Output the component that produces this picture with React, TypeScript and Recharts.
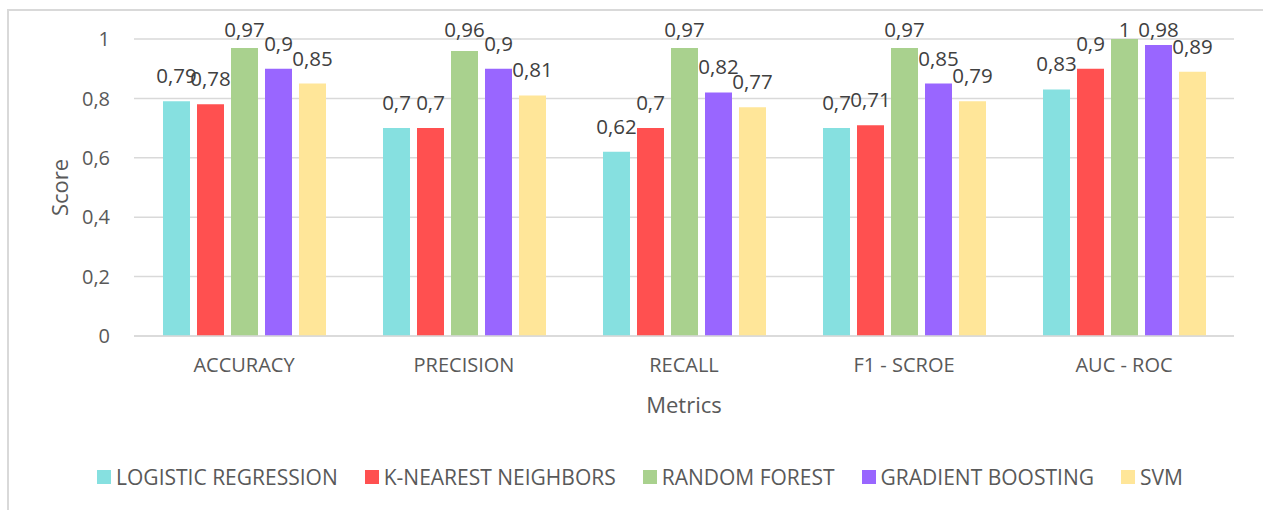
import { BarChart, Bar, XAxis, YAxis, CartesianGrid, LabelList } from "recharts"

const metrics = ["ACCURACY", "PRECISION", "RECALL", "F1 - SCROE", "AUC - ROC"]
const logisticRegression = [0.79, 0.7, 0.62, 0.7, 0.83]
const kNearestNeighbors = [0.78, 0.7, 0.7, 0.71, 0.9]
const randomForest = [0.97, 0.96, 0.97, 0.97, 1]
const gradientBoosting = [0.9, 0.9, 0.82, 0.85, 0.98]
const svm = [0.85, 0.81, 0.77, 0.79, 0.89]
const yTicks = [0, 0.2, 0.4, 0.6, 0.8, 1]

const series = [
  { key: "lr", name: "LOGISTIC REGRESSION", color: "#86E0E0", values: logisticRegression },
  { key: "knn", name: "K-NEAREST NEIGHBORS", color: "#FF5050", values: kNearestNeighbors },
  { key: "rf", name: "RANDOM FOREST", color: "#A9D18E", values: randomForest },
  { key: "gb", name: "GRADIENT BOOSTING", color: "#9966FF", values: gradientBoosting },
  { key: "svm", name: "SVM", color: "#FFE699", values: svm },
]

const data = metrics.map((m, i) => {
  const row: any = { metric: m }
  series.forEach((s) => (row[s.key] = s.values[i]))
  return row
})

const FONT = '"Open Sans", sans-serif'
const fmt = (v: any) => String(v).replace(".", ",")

// value above the bar, kept inside the top of the plot
const renderValue = (props: any) => {
  const { x, y, width, value } = props
  const ty = Math.max(y - 18, 26)
  return (
    <text x={x + width / 2} y={ty} textAnchor="middle" fill="#404040" fontSize={20.5} fontFamily={FONT}>
      {fmt(value)}
    </text>
  )
}

export default function App() {
  return (
    <div
      style={{
        position: "absolute",
        left: 7,
        top: 9,
        width: 1280,
        height: 520,
        borderLeft: "2px solid #D9D9D9",
        borderTop: "2px solid #D9D9D9",
        fontFamily: FONT,
      }}
    >
      <BarChart
        width={1268}
        height={420}
        data={data}
        margin={{ top: 28, right: 43, left: 25, bottom: 10 }}
        barSize={27}
        barGap={7}
      >
        <CartesianGrid vertical={false} stroke="#D9D9D9" strokeWidth={1.5} />
        <XAxis
          dataKey="metric"
          height={85}
          tickLine={false}
          tickSize={0}
          tickMargin={22}
          axisLine={{ stroke: "#D9D9D9", strokeWidth: 1.5 }}
          tick={{ fill: "#595959", fontSize: 20, fontFamily: FONT }}
          label={{ value: "Metrics", position: "insideBottom", offset: 8, fill: "#595959", fontSize: 22, fontFamily: FONT }}
        />
        <YAxis
          width={100}
          domain={[0, 1]}
          ticks={yTicks}
          tickFormatter={fmt}
          axisLine={false}
          tickLine={false}
          tickSize={0}
          tickMargin={24}
          tick={{ fill: "#595959", fontSize: 20, fontFamily: FONT }}
          label={{
            value: "Score",
            angle: -90,
            position: "insideLeft",
            offset: 26,
            fill: "#595959",
            fontSize: 22,
            fontFamily: FONT,
            style: { textAnchor: "middle" },
          }}
        />
        {series.map((s) => (
          <Bar key={s.key} dataKey={s.key} name={s.name} fill={s.color} isAnimationActive={false}>
            <LabelList dataKey={s.key} content={renderValue} />
          </Bar>
        ))}
      </BarChart>
      <div
        style={{
          position: "absolute",
          left: -9,
          top: 452,
          width: 1280,
          display: "flex",
          justifyContent: "center",
          gap: 27,
          fontSize: 21,
          color: "#595959",
        }}
      >
        {series.map((s) => (
          <div key={s.key} style={{ display: "flex", alignItems: "center" }}>
            <span style={{ width: 14, height: 14, background: s.color, marginRight: 5, display: "inline-block" }} />
            <span>{s.name}</span>
          </div>
        ))}
      </div>
    </div>
  )
}
